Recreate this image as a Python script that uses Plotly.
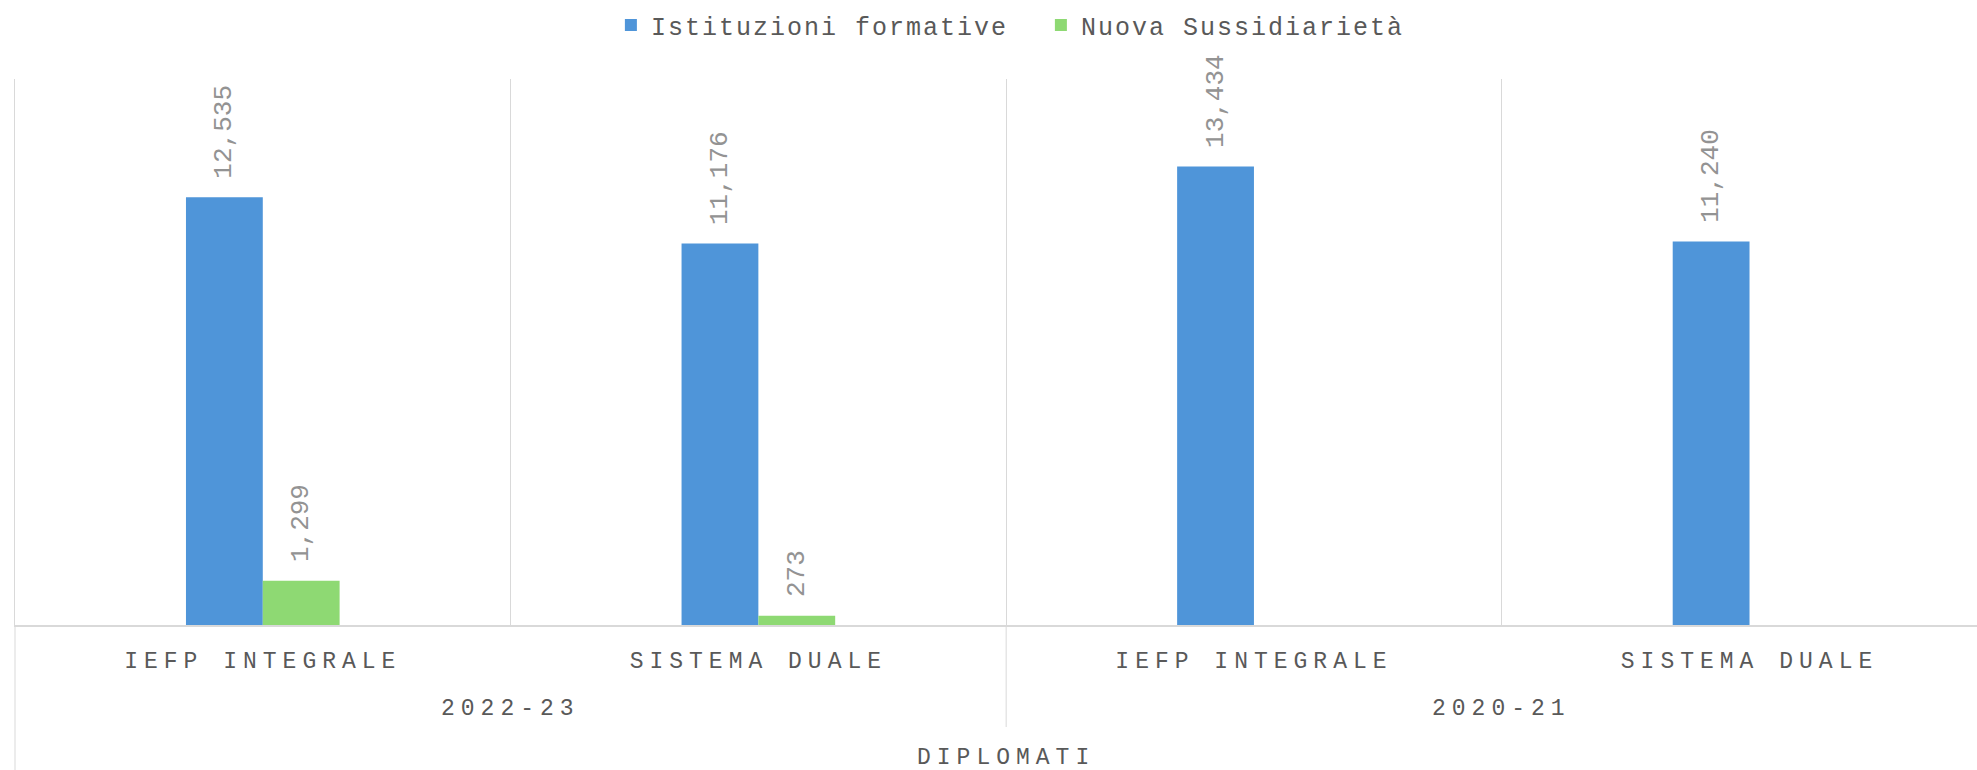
import plotly.graph_objects as go

years = ["2022-23", "2022-23", "2020-21", "2020-21"]
types = ["IEFP INTEGRALE", "SISTEMA DUALE", "IEFP INTEGRALE", "SISTEMA DUALE"]
istituzioni = [12535, 11176, 13434, 11240]
nuova = [1299, 273, None, None]
series_names = ["Istituzioni formative", "Nuova Sussidiarietà"]
axis_title = "DIPLOMATI"

FONT = "Liberation Mono, Courier New, monospace"
BLUE = "#4F95D9"
GREEN = "#8ED973"
GRID = "#D9D9D9"
TXT = "#595959"
LBL = "#939393"

# unique category keys (year + type); tick labels show only the type
keys = [f"{y} | {t}" for y, t in zip(years, types)]

fig = go.Figure()
for name, vals, col in [(series_names[0], istituzioni, BLUE), (series_names[1], nuova, GREEN)]:
    fig.add_trace(go.Bar(
        x=keys, y=vals, name=name, marker=dict(color=col, line=dict(width=0)),
        texttemplate="\u00a0%{y:,}", textposition="outside", textangle=-90,
        textfont=dict(family=FONT, size=26, color=LBL),
        constraintext="none", cliponaxis=False,
    ))

PLOT_H = 546.0
fig.update_layout(
    width=1977, height=770,
    margin=dict(l=15, r=0, t=79, b=145),
    paper_bgcolor="white", plot_bgcolor="white",
    barmode="group", bargap=0.69, bargroupgap=0,
    font=dict(family=FONT, size=23, color=TXT),
    legend=dict(orientation="h", xref="container", yref="container",
                x=0.309, y=0.997, xanchor="left", yanchor="top",
                entrywidth=385, font=dict(family=FONT, size=25, color=TXT),
                bgcolor="rgba(0,0,0,0)"),
    xaxis=dict(type="category", categoryorder="array", categoryarray=keys,
               tickmode="array", tickvals=keys, ticktext=types,
               range=[-0.5, 3.459],
               tickson="boundaries", showgrid=True, gridcolor=GRID, gridwidth=1,
               showline=True, linecolor=GRID, linewidth=2,
               ticks="", ticklabelstandoff=13,
               tickfont=dict(family=FONT, size=23, color=TXT)),
    yaxis=dict(range=[0, 16000], showticklabels=False, showgrid=False, zeroline=False,
               showline=True, linecolor=GRID, linewidth=1, ticks=""),
)

# outer-level labels (years) centred under their group of categories
seen = []
for y in years:
    if y not in seen:
        seen.append(y)
for y in seen:
    idx = [i for i, v in enumerate(years) if v == y]
    fig.add_annotation(x=sum(idx) / len(idx), y=0, xref="x", yref="paper",
                       text=y, showarrow=False, yanchor="middle", yshift=-83.6,
                       font=dict(family=FONT, size=23, color=TXT))
# top-level label centred under all categories
fig.add_annotation(x=(len(years) - 1) / 2, y=0, xref="x", yref="paper", text=axis_title,
                   showarrow=False, yanchor="middle", yshift=-132.8,
                   font=dict(family=FONT, size=23, color=TXT))

# group divider and left border extension
for i in range(1, len(years)):
    if years[i] != years[i - 1]:
        fig.add_shape(type="line", xref="x", yref="paper", x0=i - 0.5, x1=i - 0.5,
                      y0=0, y1=-102 / PLOT_H, line=dict(color=GRID, width=1))
fig.add_shape(type="line", xref="paper", yref="paper", x0=0, x1=0, y0=0, y1=-145 / PLOT_H,
              line=dict(color=GRID, width=1))

post = """
document.body.style.margin = '0';
var gd = document.getElementById('{plot_id}');
gd.querySelectorAll('text').forEach(function(t){
  if (t.classList.contains('bartext')) return;
  if (t.classList.contains('legendtext')) { t.style.letterSpacing = '2px'; return; }
  t.style.letterSpacing = '6px';
});
"""
fig.write_html("out.html", post_script=post, config={"displayModeBar": False})
